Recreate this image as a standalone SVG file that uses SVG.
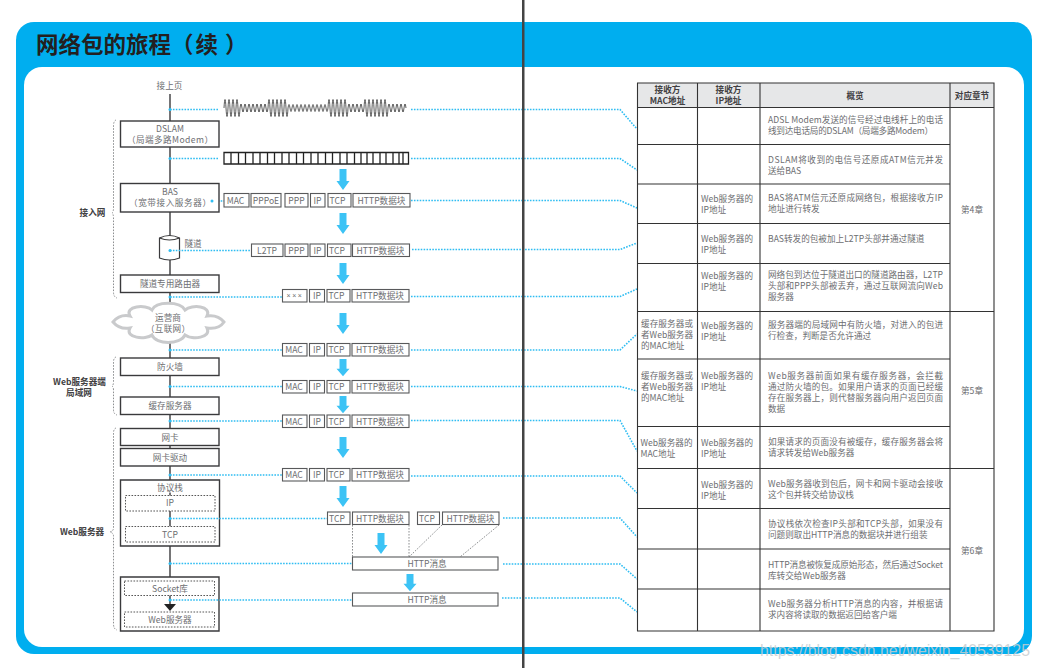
<svg xmlns="http://www.w3.org/2000/svg" width="1040" height="668" viewBox="0 0 1040 668">
<style>
text{font-family:"Noto Sans CJK SC","Noto Sans",sans-serif;font-size:8.6px;fill:#6d6e71}
.m{text-anchor:middle}
.b{font-weight:700;fill:#414042}
.n{fill:#fff;stroke:#3a3a3c;stroke-width:1.4}
.p{fill:#fff;stroke:#58595b;stroke-width:1.1}
.d{fill:#fff;stroke:#444;stroke-width:.9;stroke-dasharray:1.6 1.4}
.l{fill:none;stroke:#2fbdf2;stroke-width:1.6;stroke-dasharray:1.6 1.3}
.g{fill:none;stroke:#808285;stroke-width:.9;stroke-dasharray:1.6 1.4}
.t{fill:none;stroke:#333;stroke-width:1.1}
</style>
<defs>
<polygon id="a" points="-3.5,0 3.5,0 3.5,12 6.5,12 0,21 -6.5,12 -3.5,12" fill="#3cc3f5"/>
</defs>
<rect width="1040" height="668" fill="#fff"/>
<g id="frame">
<rect x="16" y="22" width="1016" height="632" rx="18" fill="#00aeef"/>
<rect x="24" y="67" width="1000" height="580" rx="18" fill="#fff"/>
<text x="36" y="53" style="font-size:22.5px;font-weight:700;fill:#231f20">网络包的旅程（<tspan dx="2">续</tspan><tspan dx="7">）</tspan></text>
</g>
<g id="connectors">
<path d="M170 94V577" stroke="#3a3a3c" stroke-width="1.4" fill="none"/>
<path d="M170 590V605" stroke="#3a3a3c" stroke-width="1.4" fill="none"/>
<polygon points="164,604 176,604 170,611" fill="#222"/>
<path class="l" d="M170 109.500H219M411 109.500H620L637 129"/>
<path class="l" d="M170 158.500H219M411 158.500H620L637 170"/>
<path class="l" d="M212 201H224M411 200.500H620L637 208"/>
<path class="l" d="M170 250.500H251M412 249.500H620L637 243"/>
<path class="l" d="M170 297H282M411 296.500H620L637 289"/>
<path class="l" d="M170 350H282M411 350H620L637 334"/>
<path class="l" d="M170 386.500H282M411 386.500H620L637 391"/>
<path class="l" d="M170 421H282M411 420.500H620L637 451"/>
<path class="l" d="M170 475H282M411 476H620L637 493"/>
<path class="g" d="M116 120Q113.500 121 113.500 126V208Q113.500 212 112 213Q113.500 214 113.500 218V292Q113.500 297 117 298"/>
<path class="g" d="M116 357Q113.500 358 113.500 362V382Q113.500 385 112 386Q113.500 387 113.500 390V410Q113.500 414 117 415"/>
<path class="g" d="M116 428Q113.500 429 113.500 433V528Q113.500 531 110 532Q113.500 533 113.500 536V624Q113.500 629 117 630"/>
<path class="g" d="M352.500 525V557M409 525V557M442 525L409 557M499 525L460 557"/>
</g>
<g id="signals">
<path id="wave" fill="none" stroke="#333" stroke-width=".8" d="M224 108q1 -17 2 0t2 0t2 0t2 0t2 0t2 0t2 0t2 0q1 -8 2 0t2 0t2 0t2 0t2 0t2 0t2 0t2 0t2 0t2 0t2 0t2 0t2 0t2 0q1 -17 2 0t2 0t2 0t2 0t2 0t2 0t2 0t2 0t2 0t2 0q1 -7 2 0t2 0t2 0t2 0t2 0t2 0t2 0t2 0t2 0t2 0t2 0t2 0t2 0t2 0t2 0t2 0t2 0t2 0t2 0t2 0q1 -17 2 0t2 0t2 0t2 0t2 0t2 0t2 0t2 0t2 0t2 0q1 -8 2 0t2 0t2 0t2 0t2 0t2 0t2 0t2 0q1 -17 2 0t2 0t2 0t2 0t2 0t2 0t2 0t2 0t2 0t2 0t2 0t2 0q1 -8 2 0t2 0t2 0t2 0t2 0t2 0t2 0t2 0t2 0"/>
<path id="square" fill="none" stroke="#222" stroke-width="1.300" d="M224 152.500H408.500V164H224ZM231 152.500V164M238.500 152.500V164M245.500 152.500V164M253 152.500V164M260 152.500V164M267.500 152.500V164M274.500 152.500V164M282 152.500V164M289 152.500V164M296.500 152.500V164M303.500 152.500V164M311 152.500V164M318 152.500V164M325.500 152.500V164M332.500 152.500V164M340 152.500V164M347 152.500V164M354.500 152.500V164M361 152.500V164M367 152.500V164M373 152.500V164M380 152.500V164M386 152.500V164M393 152.500V164M399 152.500V164M403 152.500V164"/>
</g>
<g id="arrows">
<use href="#a" x="343" y="169"/><use href="#a" x="343" y="213"/><use href="#a" x="343" y="263"/><use href="#a" x="343" y="313"/>
<use href="#a" transform="translate(343 359) scale(1 .82)"/><use href="#a" transform="translate(343 396) scale(1 .82)"/>
<use href="#a" x="343" y="437"/><use href="#a" x="343" y="486"/><use href="#a" x="381" y="533"/>
<use href="#a" transform="translate(410 574) scale(1 .82)"/>
</g>
<g id="n-prev"><text class="m" x="169.500" y="89">接上页</text></g>
<g id="n-dslam"><rect class="n" x="120.500" y="121" width="98.500" height="26"/><text class="m" x="170" y="132">DSLAM</text><text class="m" x="170" y="143" textLength="86">（局端多路Modem）</text></g>
<g id="n-bas"><rect class="n" x="120.500" y="183.500" width="98.500" height="28.500"/><text class="m" x="170" y="195">BAS</text><text class="m" x="170" y="206" textLength="82">（宽带接入服务器）</text></g>
<g id="n-tunnel"><path d="M159.500 238V258Q169.500 262 179.500 258V238Q169.500 233 159.500 238Z" fill="#fff" stroke="#3a3a3c" stroke-width="1.200"/><path d="M159.500 238Q169.500 242 179.500 238" fill="none" stroke="#3a3a3c" stroke-width="1.200"/><text x="184.500" y="246.500">隧道</text></g>
<g id="n-router"><rect class="n" x="120.500" y="275" width="98.500" height="17.500"/><text class="m" x="170" y="286.500">隧道专用路由器</text></g>
<g id="n-cloud"><path d="M113 322C118 316 125 315 130 316C124 306 146 304 152 310C156 301 180 301 185 310C192 304 212 306 207 316C214 315 220 317 224 322C220 328 214 329 207 328C212 338 192 340 185 335C180 345 156 345 152 335C146 340 124 338 130 328C124 329 118 328 113 322Z" fill="#fff" stroke="#c9cacc" stroke-width="3"/><text class="m" x="168" y="321">运营商</text><text class="m" x="168" y="332" textLength="44">（互联网）</text></g>
<g id="n-firewall"><rect class="n" x="120.500" y="358" width="98.500" height="17.500"/><text class="m" x="170" y="370">防火墙</text></g>
<g id="n-cache"><rect class="n" x="120.500" y="397" width="98.500" height="17.500"/><text class="m" x="170" y="409">缓存服务器</text></g>
<g id="n-nic"><rect class="n" x="120.500" y="428.500" width="98.500" height="17"/><text class="m" x="170" y="440.500">网卡</text></g>
<g id="n-driver"><rect class="n" x="120.500" y="448.500" width="98.500" height="17.500"/><text class="m" x="170" y="460.500">网卡驱动</text></g>
<g id="n-stack"><path d="M120.500 480H219.500V546H120.500Z" fill="#fff" stroke="#3a3a3c" stroke-width="1.400"/><path d="M170 492.500V496M170 511V526.500" stroke="#3a3a3c" stroke-width="1.400" fill="none"/><text class="m" x="170" y="491">协议栈</text><rect class="d" x="125.500" y="495.500" width="89.500" height="15.500"/><text class="m" x="170" y="505.500">IP</text><rect class="d" x="125.500" y="526.500" width="89.500" height="15.500"/><text class="m" x="170" y="537.500">TCP</text></g>
<g id="n-server"><path d="M120.500 577H219V631H120.500Z" fill="none" stroke="#3a3a3c" stroke-width="1.400"/><rect class="d" x="124.500" y="581" width="90" height="14.500"/><text class="m" x="170" y="592">Socket库</text><rect class="d" x="124.500" y="612" width="90" height="15"/><text class="m" x="170" y="622.500">Web服务器</text></g>
<g id="connectors-front">
<path class="l" d="M170 518.500H327M503 518H620L637 537"/>
<path class="l" d="M170 563.500H352M503 564H620L637 579"/>
<path class="l" d="M170 600H352M502 598H620L637 612"/>
<g fill="#2fbdf2"><circle cx="170" cy="109.500" r="1.500"/><circle cx="170" cy="158.500" r="1.500"/><circle cx="212" cy="201" r="1.500"/><circle cx="170" cy="250.500" r="1.500"/><circle cx="170" cy="297" r="1.500"/><circle cx="170" cy="350" r="1.500"/><circle cx="170" cy="386.500" r="1.500"/><circle cx="170" cy="421" r="1.500"/><circle cx="170" cy="475" r="1.500"/><circle cx="170" cy="518.500" r="1.500"/><circle cx="170" cy="563.500" r="1.500"/><circle cx="170" cy="600" r="1.500"/></g>
<path class="l" d="M170 250.500H180"/>
</g>
<g id="labels"><text class="m b" x="92.500" y="216">接入网</text><text class="m b" x="79.500" y="384.500">Web服务器端</text><text class="m b" x="79" y="395.500">局域网</text><text class="m b" x="82" y="535">Web服务器</text></g>
<g id="packets">
<rect class="p" x="224" y="193.500" width="25" height="13.500"/><rect class="p" x="251" y="193.500" width="30" height="13.500"/><rect class="p" x="285" y="193.500" width="23" height="13.500"/><rect class="p" x="310.500" y="193.500" width="14.500" height="13.500"/><rect class="p" x="328" y="193.500" width="23" height="13.500"/><rect class="p" x="353" y="193.500" width="57" height="13.500"/>
<text class="m" x="235.500" y="203.500">MAC</text><text class="m" x="266" y="203.500">PPPoE</text><text class="m" x="296.500" y="203.500">PPP</text><text class="m" x="317.500" y="203.500">IP</text><text class="m" x="337.500" y="203.500">TCP</text><text class="m" x="381.500" y="203.500">HTTP数据块</text>
<rect class="p" x="251.500" y="244" width="31.500" height="12.500"/><rect class="p" x="285" y="244" width="23" height="12.500"/><rect class="p" x="310" y="244" width="15" height="12.500"/><rect class="p" x="327.500" y="244" width="23.500" height="12.500"/><rect class="p" x="352.500" y="244" width="57" height="12.500"/>
<text class="m" x="267" y="253.500">L2TP</text><text class="m" x="296.500" y="253.500">PPP</text><text class="m" x="317.500" y="253.500">IP</text><text class="m" x="337" y="253.500">TCP</text><text class="m" x="380.500" y="253.500">HTTP数据块</text>
<rect class="p" x="282.500" y="289.500" width="24.500" height="12.500"/><rect class="p" x="309.500" y="289.500" width="15" height="12.500"/><rect class="p" x="327" y="289.500" width="23" height="12.500"/><rect class="p" x="352" y="289.500" width="57" height="12.500"/>
<text class="m" x="295" y="298" style="font-family:'Liberation Sans',sans-serif;font-size:7px;letter-spacing:1.500px">×××</text><text class="m" x="317" y="299">IP</text><text class="m" x="336.500" y="299">TCP</text><text class="m" x="380" y="299">HTTP数据块</text>
<rect class="p" x="282.500" y="343.500" width="24.500" height="12.500"/><rect class="p" x="309.500" y="343.500" width="15" height="12.500"/><rect class="p" x="327" y="343.500" width="23" height="12.500"/><rect class="p" x="352" y="343.500" width="57" height="12.500"/>
<text class="m" x="294" y="353">MAC</text><text class="m" x="317" y="353">IP</text><text class="m" x="336.500" y="353">TCP</text><text class="m" x="380" y="353">HTTP数据块</text>
<rect class="p" x="282.500" y="380.500" width="24.500" height="12.500"/><rect class="p" x="309.500" y="380.500" width="15" height="12.500"/><rect class="p" x="327" y="380.500" width="23" height="12.500"/><rect class="p" x="352" y="380.500" width="57" height="12.500"/>
<text class="m" x="294" y="390">MAC</text><text class="m" x="317" y="390">IP</text><text class="m" x="336.500" y="390">TCP</text><text class="m" x="380" y="390">HTTP数据块</text>
<rect class="p" x="282.500" y="415" width="24.500" height="12.500"/><rect class="p" x="309.500" y="415" width="15" height="12.500"/><rect class="p" x="327" y="415" width="23" height="12.500"/><rect class="p" x="352" y="415" width="57" height="12.500"/>
<text class="m" x="294" y="424.500">MAC</text><text class="m" x="317" y="424.500">IP</text><text class="m" x="336.500" y="424.500">TCP</text><text class="m" x="380" y="424.500">HTTP数据块</text>
<rect class="p" x="282.500" y="468.500" width="24.500" height="12.500"/><rect class="p" x="309.500" y="468.500" width="15" height="12.500"/><rect class="p" x="327" y="468.500" width="23" height="12.500"/><rect class="p" x="352" y="468.500" width="57" height="12.500"/>
<text class="m" x="294" y="478">MAC</text><text class="m" x="317" y="478">IP</text><text class="m" x="336.500" y="478">TCP</text><text class="m" x="380" y="478">HTTP数据块</text>
<rect class="p" x="327.500" y="512" width="22.500" height="12.500"/><rect class="p" x="352.500" y="512" width="56.500" height="12.500"/><rect class="p" x="417.500" y="512" width="22" height="12.500"/><rect class="p" x="442.500" y="512" width="56.500" height="12.500"/>
<text class="m" x="337" y="521.500">TCP</text><text class="m" x="380" y="521.500">HTTP数据块</text><text class="m" x="427" y="521.500">TCP</text><text class="m" x="470.500" y="521.500">HTTP数据块</text>
<rect class="p" x="352.500" y="557" width="145.500" height="13"/><text class="m" x="427" y="566.500">HTTP消息</text>
<rect class="p" x="352.500" y="593" width="145.500" height="13"/><text class="m" x="427" y="602.500">HTTP消息</text>
</g>
<g id="table">
<rect x="637.500" y="83" width="356.500" height="24.500" fill="#e6e7e8"/>
<path class="t" d="M637.500 83H994V631H637.500ZM637.500 107.500H994M637.500 144.500H950M637.500 184H950M637.500 223.500H950M637.500 263.500H950M637.500 311.500H994M637.500 359H950M637.500 426.500H950M637.500 468.500H994M637.500 508.500H950M637.500 549H950M637.500 589H950M697.500 83V631M760 83V631M950 83V631"/>
<text class="m b" x="667.500" y="93">接收方</text><text class="m b" x="667.500" y="104">MAC地址</text><text class="m b" x="728.500" y="93">接收方</text><text class="m b" x="728.500" y="104">IP地址</text><text class="m b" x="855" y="98.500">概览</text><text class="m b" x="972" y="98.500">对应章节</text>
<text x="768" y="123" textLength="175">ADSL Modem发送的信号经过电线杆上的电话</text><text x="768" y="134" textLength="165">线到达电话局的DSLAM（局端多路Modem）</text>
<text x="768" y="163" textLength="175">DSLAM将收到的电信号还原成ATM信元并发</text><text x="768" y="174">送给BAS</text>
<text x="701" y="202">Web服务器的</text><text x="701" y="213">IP地址</text><text x="768" y="201" textLength="175">BAS将ATM信元还原成网络包，根据接收方IP</text><text x="768" y="212">地址进行转发</text>
<text x="701" y="242">Web服务器的</text><text x="701" y="253">IP地址</text><text x="768" y="242">BAS转发的包被加上L2TP头部并通过隧道</text>
<text x="701" y="279">Web服务器的</text><text x="701" y="290">IP地址</text><text x="768" y="278" textLength="175">网络包到达位于隧道出口的隧道路由器，L2TP</text><text x="768" y="289" textLength="175">头部和PPP头部被丢弃，通过互联网流向Web</text><text x="768" y="300">服务器</text>
<text x="641" y="327" textLength="52">缓存服务器或</text><text x="641" y="338" textLength="52">者Web服务器</text><text x="641" y="349">的MAC地址</text><text x="701" y="329">Web服务器的</text><text x="701" y="340">IP地址</text><text x="768" y="328" textLength="175">服务器端的局域网中有防火墙，对进入的包进</text><text x="768" y="339">行检查，判断是否允许通过</text>
<text x="641" y="379" textLength="52">缓存服务器或</text><text x="641" y="390" textLength="52">者Web服务器</text><text x="641" y="401">的MAC地址</text><text x="701" y="379">Web服务器的</text><text x="701" y="390">IP地址</text><text x="768" y="379" textLength="175">Web服务器前面如果有缓存服务器，会拦截</text><text x="768" y="390" textLength="175">通过防火墙的包。如果用户请求的页面已经缓</text><text x="768" y="401" textLength="175">存在服务器上，则代替服务器向用户返回页面</text><text x="768" y="412">数据</text>
<text x="640.500" y="446">Web服务器的</text><text x="640.500" y="457">MAC地址</text><text x="701" y="446">Web服务器的</text><text x="701" y="457">IP地址</text><text x="768" y="445" textLength="175">如果请求的页面没有被缓存，缓存服务器会将</text><text x="768" y="456">请求转发给Web服务器</text>
<text x="701" y="488">Web服务器的</text><text x="701" y="499">IP地址</text><text x="768" y="487" textLength="175">Web服务器收到包后，网卡和网卡驱动会接收</text><text x="768" y="498">这个包并转交给协议栈</text>
<text x="768" y="527" textLength="175">协议栈依次检查IP头部和TCP头部，如果没有</text><text x="768" y="538">问题则取出HTTP消息的数据块并进行组装</text>
<text x="768" y="568" textLength="175">HTTP消息被恢复成原始形态，然后通过Socket</text><text x="768" y="579">库转交给Web服务器</text>
<text x="768" y="607" textLength="175">Web服务器分析HTTP消息的内容，并根据请</text><text x="768" y="618">求内容将读取的数据返回给客户端</text>
<text class="m" x="972" y="213">第4章</text><text class="m" x="972" y="394">第5章</text><text class="m" x="972" y="554">第6章</text>
</g>
<rect id="fold" x="522" y="0" width="2.500" height="668" fill="#444"/>
<text id="watermark" x="760" y="656" textLength="270" lengthAdjust="spacingAndGlyphs" style="font-family:'Liberation Sans',sans-serif;font-size:16.500px;fill:#c8cdd0;fill-opacity:.85">https://blog.csdn.net/weixin_40539125</text>
</svg>
